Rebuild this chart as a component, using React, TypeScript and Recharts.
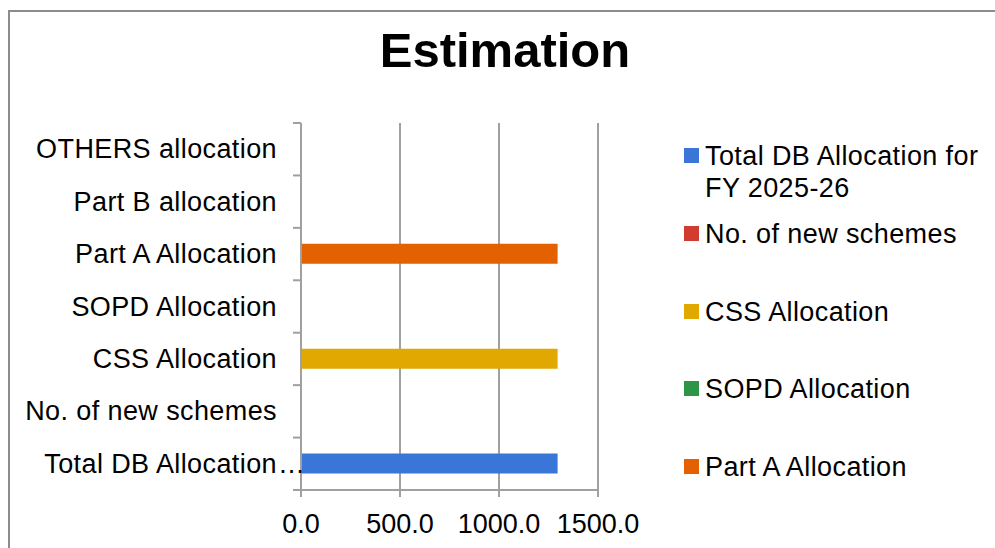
import React from "react";
import { BarChart, Bar, XAxis, YAxis, CartesianGrid } from "recharts";

const categories = [
  "Total DB Allocation for FY 2025-26",
  "No. of new schemes",
  "CSS Allocation",
  "SOPD Allocation",
  "Part A Allocation",
  "Part B allocation",
  "OTHERS allocation",
];
const categoryLabels = [
  "Total DB Allocation",
  "No. of new schemes",
  "CSS Allocation",
  "SOPD Allocation",
  "Part A Allocation",
  "Part B allocation",
  "OTHERS allocation",
];
const seriesNames = [
  "Total DB Allocation for FY 2025-26",
  "No. of new schemes",
  "CSS Allocation",
  "SOPD Allocation",
  "Part A Allocation",
  "Part B allocation",
  "OTHERS allocation",
];
const seriesColors = ["#3a75d8", "#d23b30", "#e0a800", "#2e9448", "#e36100", "#7a7a7a", "#9b59b6"];
// value of each category (each category carries its own series)
const categoryValues = [1296, 0, 1296, 0, 1296, 0, 0];
const xTicks = [0, 500, 1000, 1500];
const legendCount = 5;

const W = 995;
const H = 548;
const M = { top: 123, right: 397, bottom: 0, left: 6 };
const XH = 58;
const plotH = H - M.top - M.bottom - XH;
const halfBand = plotH / categories.length / 2;

const data = categories.map((c, i) => {
  const row: any = { name: c, label: categoryLabels[i] };
  seriesNames.forEach((s, j) => {
    row["s" + j] = j === i ? categoryValues[i] : 0;
  });
  return row;
});

const FONT = "'Liberation Sans', Arial, sans-serif";
const LS = 0.4;

const YTick = (props: any) => {
  const { x, y, payload } = props;
  const i = categories.indexOf(payload.value);
  const label = categoryLabels[i];
  const truncated = label !== categories[i];
  const ax = x + 24;
  return (
    <g>
      <line x1={ax - 8} x2={ax} y1={y + halfBand} y2={y + halfBand} stroke="#a0a0a0" strokeWidth={2} />
      {i === categories.length - 1 ? (
        <line x1={ax - 8} x2={ax} y1={y - halfBand} y2={y - halfBand} stroke="#a0a0a0" strokeWidth={2} />
      ) : null}
      <text x={x} y={y} dy={9} textAnchor="end" fontSize={27} fontFamily={FONT} fill="#000" style={{ letterSpacing: LS }}>
        {label}
      </text>
      {truncated ? (
        <text x={x + 1} y={y} dy={9} textAnchor="start" fontSize={27} fontFamily={FONT} fill="#000">
          …
        </text>
      ) : null}
    </g>
  );
};

const LegendBox = () => (
  <div
    style={{
      position: "absolute",
      left: 684,
      top: 140,
      width: 310,
      height: 360,
      fontFamily: FONT,
      fontSize: 27,
      color: "#000",
      lineHeight: "32px",
      letterSpacing: LS,
    }}
  >
    {seriesNames.slice(0, legendCount).map((n, i) => (
      <div
        key={n}
        style={{ position: "absolute", left: 0, top: i === 0 ? 0 : 78 + (i - 1) * 77.5, display: "flex", alignItems: "flex-start" }}
      >
        <div style={{ width: 15, height: 15, background: seriesColors[i], marginTop: 8, marginRight: 6, flex: "none" }} />
        <div style={{ width: 295, whiteSpace: "nowrap" }}>
          {i === 0 ? (
            <>
              Total DB Allocation for
              <br />
              FY 2025-26
            </>
          ) : (
            n
          )}
        </div>
      </div>
    ))}
  </div>
);

export default function App() {
  return (
    <div style={{ position: "absolute", left: 0, top: 0, width: W, height: H, background: "#fff", overflow: "hidden" }}>
      <div
        style={{
          position: "absolute",
          left: 8,
          top: 10,
          width: W,
          height: H,
          borderLeft: "2px solid #8c8c8c",
          borderTop: "2px solid #8c8c8c",
          boxSizing: "border-box",
        }}
      />
      <div
        style={{
          position: "absolute",
          left: 0,
          width: 1010,
          top: 20,
          textAlign: "center",
          fontFamily: FONT,
          fontWeight: "bold",
          fontSize: 49,
          lineHeight: "60px",
          color: "#000",
        }}
      >
        Estimation
      </div>
      <div style={{ position: "absolute", left: 0, top: 0 }}>
        <BarChart width={W} height={H} data={data} layout="vertical" margin={M} barSize={20}>
          <CartesianGrid horizontal={false} vertical={true} stroke="#a0a0a0" strokeWidth={2} />
          <XAxis
            type="number"
            domain={[0, 1500]}
            ticks={xTicks}
            tickFormatter={(v: number) => v.toFixed(1)}
            axisLine={{ stroke: "#a0a0a0", strokeWidth: 2 }}
            tickLine={{ stroke: "#a0a0a0", strokeWidth: 2 }}
            tickSize={7}
            tickMargin={17}
            height={XH}
            interval={0}
            tick={{ fontSize: 27, fontFamily: FONT, fill: "#000" }}
          />
          <YAxis
            type="category"
            dataKey="name"
            reversed
            width={295}
            axisLine={{ stroke: "#a0a0a0", strokeWidth: 2 }}
            tickLine={false}
            tickSize={8}
            tickMargin={16}
            interval={0}
            tick={<YTick />}
          />
          {seriesNames.map((s, j) => (
            <Bar key={s} dataKey={"s" + j} name={s} stackId="a" fill={seriesColors[j]} isAnimationActive={false} />
          ))}
        </BarChart>
      </div>
      <LegendBox />
    </div>
  );
}
